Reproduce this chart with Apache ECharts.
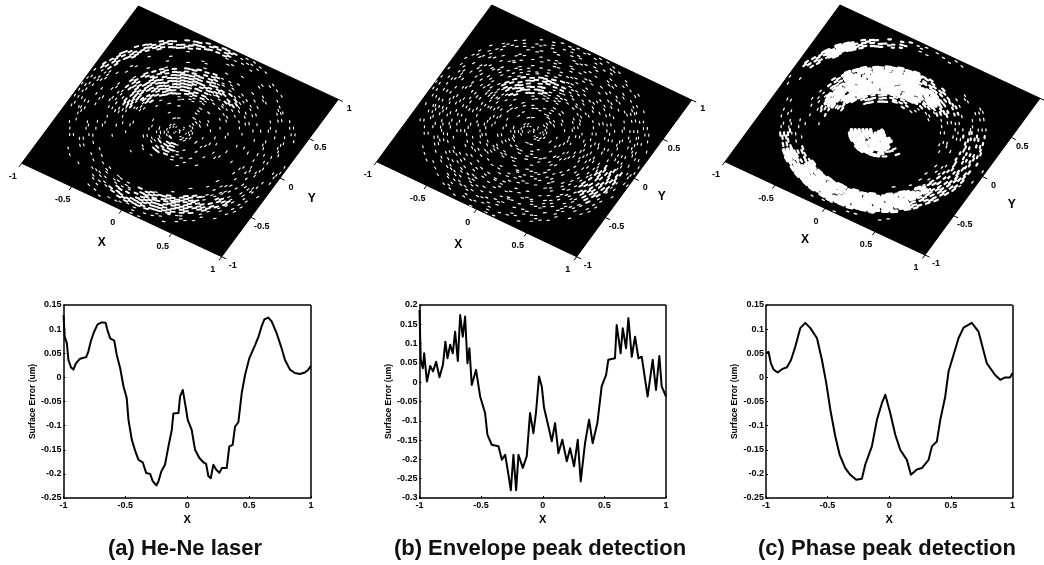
<!DOCTYPE html>
<html><head><meta charset="utf-8">
<style>html,body{margin:0;padding:0;background:#fff}#c{width:1044px;height:565px}</style>
<script src="https://cdn.jsdelivr.net/npm/echarts@6/dist/echarts.min.js"></script>
</head><body><div id="c"></div>
<script>
// ---------- profile data (X, surface error in um) ----------
const profileA = [[-1,.129],[-.99,.084],[-.973,.071],[-.96,.036],[-.94,.021],[-.92,.016],[-.9,.029],[-.87,.038],[-.845,.04],[-.817,.042],[-.8,.053],[-.78,.074],[-.758,.091],[-.725,.11],[-.69,.114],[-.66,.113],[-.645,.098],[-.623,.081],[-.59,.076],[-.57,.047],[-.542,.019],[-.515,-.019],[-.489,-.043],[-.475,-.088],[-.448,-.129],[-.42,-.153],[-.394,-.171],[-.36,-.176],[-.332,-.198],[-.3,-.2],[-.279,-.215],[-.25,-.224],[-.233,-.216],[-.21,-.195],[-.18,-.181],[-.152,-.143],[-.125,-.109],[-.112,-.075],[-.071,-.074],[-.058,-.04],[-.036,-.026],[-.018,-.053],[.004,-.088],[.036,-.109],[.063,-.15],[.098,-.167],[.13,-.176],[.152,-.179],[.171,-.205],[.19,-.209],[.211,-.181],[.233,-.191],[.26,-.198],[.279,-.188],[.319,-.188],[.34,-.143],[.367,-.14],[.386,-.102],[.413,-.093],[.44,-.033],[.467,.005],[.502,.04],[.548,.067],[.575,.084],[.6,.105],[.623,.12],[.655,.124],[.682,.116],[.723,.091],[.763,.06],[.79,.036],[.83,.016],[.87,.009],[.91,.007],[.95,.01],[.978,.016],[1,.024]];
const profileB = [[-1,.187],[-.99,.058],[-.973,.036],[-.962,.075],[-.94,.002],[-.913,.042],[-.89,.028],[-.865,.053],[-.838,.013],[-.81,.045],[-.79,.105],[-.773,.062],[-.751,.097],[-.73,.075],[-.711,.131],[-.689,.055],[-.67,.174],[-.649,.118],[-.63,.17],[-.611,.049],[-.595,.088],[-.576,-.007],[-.541,.032],[-.508,-.037],[-.468,-.08],[-.449,-.136],[-.414,-.162],[-.359,-.166],[-.332,-.201],[-.305,-.188],[-.278,-.24],[-.259,-.28],[-.238,-.188],[-.216,-.28],[-.197,-.188],[-.162,-.222],[-.13,-.192],[-.103,-.08],[-.076,-.132],[-.054,-.076],[-.03,.015],[-.008,-.011],[.011,-.067],[.046,-.115],[.073,-.153],[.1,-.106],[.127,-.184],[.159,-.149],[.195,-.205],[.222,-.171],[.254,-.218],[.284,-.149],[.308,-.257],[.343,-.158],[.376,-.097],[.405,-.158],[.443,-.106],[.478,-.011],[.514,.019],[.532,.058],[.586,.062],[.6,.148],[.632,.075],[.649,.14],[.676,.088],[.695,.166],[.722,.066],[.749,.118],[.776,.062],[.803,.066],[.851,-.037],[.892,.058],[.919,-.02],[.946,.068],[.965,-.011],[1,-.037]];
const profileC = [[-1,.05],[-.98,.053],[-.96,.029],[-.938,.016],[-.905,.01],[-.87,.017],[-.83,.021],[-.797,.036],[-.762,.064],[-.722,.102],[-.681,.113],[-.64,.102],[-.586,.081],[-.546,.036],[-.511,-.012],[-.478,-.067],[-.438,-.122],[-.403,-.16],[-.357,-.188],[-.316,-.202],[-.268,-.212],[-.222,-.21],[-.195,-.181],[-.141,-.143],[-.1,-.088],[-.059,-.053],[-.032,-.036],[.008,-.074],[.049,-.119],[.089,-.15],[.143,-.171],[.176,-.202],[.224,-.191],[.265,-.188],[.319,-.171],[.346,-.143],[.386,-.133],[.414,-.088],[.454,-.04],[.481,.012],[.522,.047],[.562,.081],[.603,.103],[.67,.113],[.724,.095],[.792,.029],[.859,.005],[.9,-.005],[.941,0],[.981,0],[1,.009]];

// ---------- surface brightness ----------
// one row per radius band (0-0.1 ... 0.9-1), one digit per 15 degree sector
const surfaceA = [
"333333333333333333333333",
"333333322222223466653333",
"222222111111123566652222",
"222223332221111111112222",
"112245678775211100000011",
"112467899998521000000001",
"112345677665321000111112",
"222211111112222235888543",
"222211111112222247998632",
"222225677765422122333332"];
const surfaceB = [
"333333333333333333333333",
"333333333333334433333333",
"333333333333333333343333",
"333333343333333333333333",
"333344566654333333333333",
"333345666654433333333334",
"333334445443333333333445",
"433333333333444443334466",
"443333333333444444434566",
"333334444433332233333333"];
const surfaceC = [
"000000000000000088888000",
"000000000000008999999800",
"000000000000008999987600",
"000045766700000000000000",
"000479999987100000000000",
"233699999999510000000000",
"233567888874210000001123",
"553200000000023699999865",
"553200000000146899999766",
"100002357961000001111001"];

const xTicks3d = [-1,-0.5,0,0.5,1];
const yTicks3d = [-1,-0.5,0,0.5,1];
const captions = ["(a) He-Ne laser","(b) Envelope peak detection","(c) Phase peak detection"];
const ditherOrder = [7,2,9,4,0,6,1,8,3,5];

// ---------- layout ----------
const surfaces = [
 {table:surfaceA, sub:3, fat:false, c:[[21.7,163.3],[221.7,256.7],[340,96.7],[138.3,6]], xn:[101.7,243], yn:[311.7,199]},
 {table:surfaceB, sub:3, fat:false, c:[[376.7,161.7],[576.7,256.7],[695,96.7],[491.7,5]], xn:[458.3,245], yn:[661.7,197]},
 {table:surfaceC, sub:3, fat:true, c:[[725,161.7],[925,255],[1043,95],[840,5]], xn:[805,240], yn:[1011.7,205]}
];
const plots = [
 {data:profileA, left:63.5, right:311, min:-.25, max:.15, cap:185, gap:25},
 {data:profileB, left:419.5, right:666, min:-.3, max:.2, cap:540, gap:21},
 {data:profileC, left:766, right:1012.5, min:-.25, max:.15, cap:887, gap:25}
];
const tickFont = 'bold 9px "Liberation Sans"';
const nameFont = 'bold 12px "Liberation Sans"';

function projector(c){
  return function(X,Y){
    const u=(X+1)/2, v=(Y+1)/2;
    return [c[0][0]+u*(c[1][0]-c[0][0])+v*(c[3][0]-c[0][0]),
            c[0][1]+u*(c[1][1]-c[0][1])+v*(c[3][1]-c[0][1])];
  };
}

function surfaceSeries(s){
  const P=projector(s.c), cells=[];
  s.table.forEach((row,i)=>{ for(let j=0;j<row.length;j++) cells.push([i,j,+row[j]]); });
  const dTh=15*Math.PI/180, slot=.036, O=ditherOrder;
  return {
    type:'custom', coordinateSystem:'none', silent:true, z:3, animation:false, clip:false,
    data:cells,
    renderItem(params,api){
      const i=api.value(0), j=api.value(1), val=api.value(2), kids=[];
      if(!val) return {type:'group',children:[]};
      for(let k=0;k<s.sub;k++){
        const r=(i+(k+.5)/s.sub)/10;
        const n=Math.max(1,Math.round(r*dTh/slot));
        const stepA=dTh/n;
        for(let m=0;m<n;m++){
          // ordered dither: the share of slots that light up follows the table digit
          const order=O[(O[(O[(i+k*3)%10]+j)%10]+m+k)%10];
          if(order>=val) continue;
          const frac=s.fat&&val>=8?1.1:(val>=6?.9:.6);
          const a=j*dTh+m*stepA, b=a+frac*stepA;
          const rr=r+(O[(m+j)%10]-4.5)*.003;
          const width=s.fat?(val>=8?3.6:val>=5?2.2:1.3):(val>=6?1.9:1.15);
          kids.push({type:'polyline',shape:{points:[
            P(rr*Math.cos(a),rr*Math.sin(a)),P(rr*Math.cos(b),rr*Math.sin(b))]},
            style:{stroke:'#fff',lineWidth:width,fill:null,lineCap:'round'}});
        }
      }
      return {type:'group',children:kids};
    }
  };
}

function frameSeries(s){
  const P=projector(s.c);
  return {
    type:'custom', coordinateSystem:'none', silent:true, z:2, animation:false, clip:false,
    data:[0],
    renderItem(){
      const kids=[{type:'polygon',shape:{points:[P(-1,-1),P(1,-1),P(1,1),P(-1,1)]},style:{fill:'#000',stroke:'#000',lineWidth:1}}];
      xTicks3d.forEach(t=>{
        const p=P(t,-1), q=P(t,-1.045);
        kids.push({type:'line',shape:{x1:p[0],y1:p[1],x2:q[0],y2:q[1]},style:{stroke:'#000',lineWidth:1}});
        kids.push({type:'text',style:{text:String(t),x:p[0]-9,y:p[1]+13,fill:'#000',font:tickFont,textAlign:'center',textVerticalAlign:'middle'}});
      });
      yTicks3d.forEach(t=>{
        const p=P(1,t), q=P(1.045,t);
        kids.push({type:'line',shape:{x1:p[0],y1:p[1],x2:q[0],y2:q[1]},style:{stroke:'#000',lineWidth:1}});
        kids.push({type:'text',style:{text:String(t),x:p[0]+11,y:p[1]+9,fill:'#000',font:tickFont,textAlign:'center',textVerticalAlign:'middle'}});
      });
      kids.push({type:'text',style:{text:'X',x:s.xn[0],y:s.xn[1],fill:'#000',font:nameFont,textAlign:'center',textVerticalAlign:'middle'}});
      kids.push({type:'text',style:{text:'Y',x:s.yn[0],y:s.yn[1],fill:'#000',font:nameFont,textAlign:'center',textVerticalAlign:'middle'}});
      return {type:'group',children:kids};
    }
  };
}

const W=1044,H=565;
const option={
  animation:false, backgroundColor:'#fff',
  title:plots.map((p,i)=>({text:captions[i],left:p.cap,top:538,textAlign:'center',padding:0,
    textStyle:{color:'#111',fontSize:22,fontWeight:'bold',fontFamily:'Liberation Sans'}})),
  grid:plots.map(p=>({left:p.left,width:p.right-p.left,top:305,height:193,show:false,containLabel:false})),
  xAxis:plots.map((p,i)=>({gridIndex:i,type:'value',min:-1,max:1,interval:.5,name:'X',nameLocation:'middle',nameGap:16,
    nameTextStyle:{color:'#000',fontSize:11,fontWeight:'bold',fontFamily:'Liberation Sans'},
    axisLine:{onZero:false,lineStyle:{color:'#000',width:1.5}},axisTick:{inside:true,length:2,lineStyle:{color:'#000'}},
    axisLabel:{color:'#000',fontSize:9,fontWeight:'bold',fontFamily:'Liberation Sans',margin:3,showMinLabel:true,showMaxLabel:true},splitLine:{show:false}})),
  yAxis:plots.map((p,i)=>({gridIndex:i,type:'value',min:p.min,max:p.max,interval:.05,name:'Surface Error (um)',nameLocation:'middle',nameGap:p.gap,
    nameTextStyle:{color:'#000',fontSize:8.5,fontWeight:'bold',fontFamily:'Liberation Sans'},
    axisLine:{onZero:false,lineStyle:{color:'#000',width:1.5}},axisTick:{inside:true,length:2,lineStyle:{color:'#000'}},
    axisLabel:{color:'#000',fontSize:9,fontWeight:'bold',fontFamily:'Liberation Sans',margin:2,hideOverlap:false},splitLine:{show:false}})),
  series:[
    ...surfaces.map(frameSeries),
    ...surfaces.map(surfaceSeries),
    ...plots.map((p,i)=>({type:'line',xAxisIndex:i,yAxisIndex:i,data:p.data,showSymbol:false,symbol:'none',smooth:false,
      lineStyle:{color:'#000',width:2,join:'round'},z:4,markLine:{silent:true,symbol:'none',label:{show:false},animation:false,
        lineStyle:{color:'#000',width:1.5,type:'solid'},
        data:[[{coord:[-1,p.max]},{coord:[1,p.max]}],[{coord:[1,p.min]},{coord:[1,p.max]}]]}}))
  ]
};
echarts.init(document.getElementById('c'),null,{renderer:'canvas',width:W,height:H}).setOption(option);
</script></body></html>
